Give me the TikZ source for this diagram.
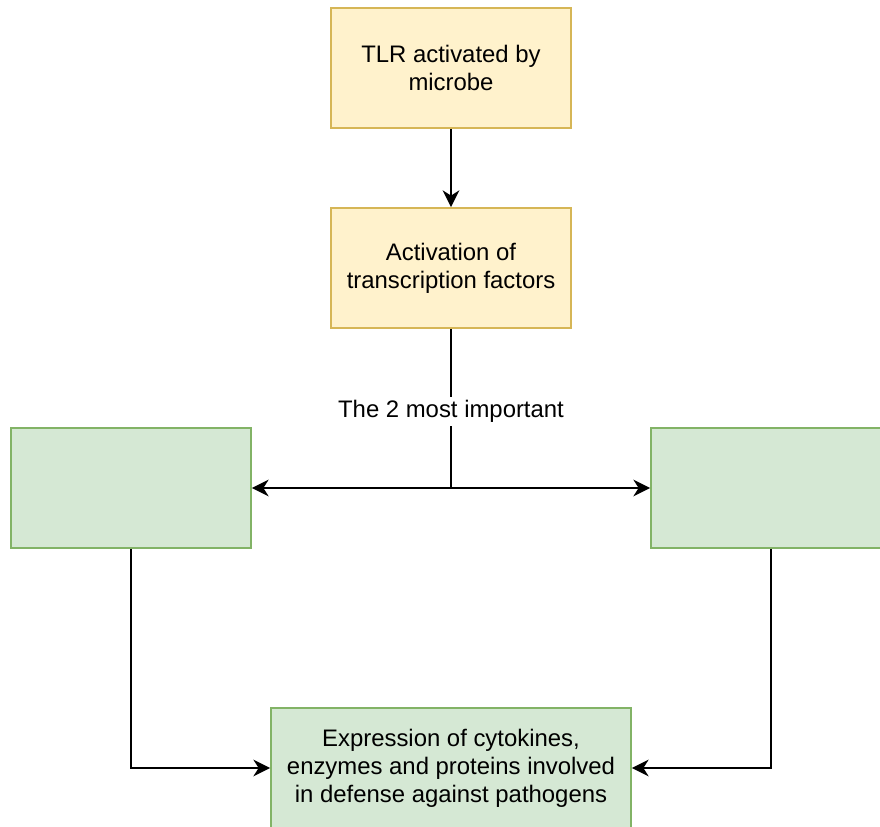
\documentclass[tikz,border=0pt]{standalone}
\usepackage{fontspec}
\setmainfont{Liberation Sans}
\usetikzlibrary{arrows.meta}
\definecolor{ylwfill}{HTML}{FFF2CC}
\definecolor{ylwline}{HTML}{D6B656}
\definecolor{grnfill}{HTML}{D5E8D4}
\definecolor{grnline}{HTML}{82B366}
\begin{document}
\begin{tikzpicture}[x=0.02cm, y=-0.02cm, line width=1.1pt,
% common options for the yellow blocks:
ylw/.style = {draw=ylwline, fill=ylwfill, align=center, inner sep=0,
            minimum width=4.8cm, minimum height=2.4cm},
% common options for the green blocks:
grn/.style = {draw=grnline, fill=grnfill, align=center, inner sep=0,
            minimum width=4.8cm, minimum height=2.4cm},
lbl/.style = {fill=white, inner sep=2pt},
>={Stealth[length=9.5pt,width=9.5pt,inset=3pt]},
every node/.style = {font=\fontsize{13.6}{15.9}\selectfont}]
\useasboundingbox (0,0) rectangle (880,827);
\node[ylw] (tlr) at (451,68) {TLR activated by\\microbe};
\node[ylw] (tf) at (451,268) {Activation of\\transcription factors};
\node[grn] (L) at (131,488) {};
\node[grn] (R) at (771,488) {};
\node[grn,minimum width=7.2cm] (expr) at (451,768) {Expression of cytokines,\\enzymes and proteins involved\\in defense against pathogens};
\coordinate (split) at (451,488);
\draw[->] (tlr) -- (tf);
\draw (tf) -- node[lbl,pos=0.52] (imp) {The 2 most important} (split);
\draw[->] (split) -- (L);
\draw[->] (split) -- (R);
\draw[->] (L.south) |- (expr.west);
\draw[->] (R.south) |- (expr.east);
\end{tikzpicture}
\end{document}
